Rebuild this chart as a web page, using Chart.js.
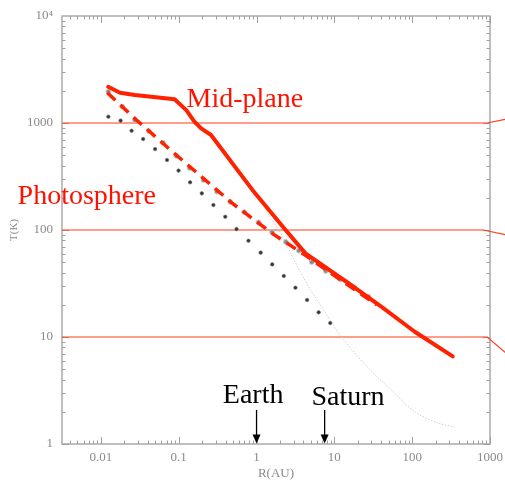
<!DOCTYPE html>
<html>
<head>
<meta charset="utf-8">
<script src="https://cdn.jsdelivr.net/npm/chart.js@4.4.1/dist/chart.umd.min.js"></script>
<style>
  html, body { margin: 0; padding: 0; background: #fff; }
  #wrap { width: 505px; height: 483px; }
</style>
</head>
<body>
<div id="wrap"><canvas id="tempChart" width="505" height="483"></canvas></div>
<script>
// R(AU) vs T(K)
const midR = [0.0124, 0.0176, 0.0273, 0.0885, 0.125, 0.159, 0.194, 0.26, 0.885, 2.36, 4.25, 15.2, 40, 108, 332];
const midT = [2180, 1920, 1830, 1670, 1320, 1030, 890, 773, 237, 100, 60.5, 31.8, 19.2, 11.2, 6.6];

const photR = [0.0121, 0.0286, 0.093, 0.491, 1.59, 4.25, 8, 15, 35];
const photT = [1920, 1067, 502, 177, 93, 58, 42, 30.5, 20];

const grayR = [0.01245, 0.0188, 0.0273, 0.0412, 0.0628, 0.0931, 0.138, 0.208, 0.31, 0.459, 0.693, 1.06, 1.58, 2.38, 3.5, 5.13, 7.74, 11.9, 18.2, 27.4];
const grayT = [1963, 1419, 1066, 841, 654, 492, 380, 293, 228, 183, 147, 118, 95.7, 77.3, 64.1, 50.2, 41.4, 34.6, 28.7, 23.8];

const dotR = [0.01247, 0.0179, 0.0248, 0.0349, 0.0497, 0.0707, 0.0995, 0.14, 0.198, 0.279, 0.396, 0.553, 0.787, 1.13, 1.59, 2.24, 3.16, 4.46, 6.28, 8.85];
const dotT = [1145, 1052, 847, 708, 571, 451, 359, 279, 220, 171, 133, 102, 79.4, 61.4, 47.7, 37.2, 28.9, 22.2, 17.0, 13.5];

const faintR = [1.14, 1.45, 1.94, 2.61, 4.69, 7.29, 11.3, 25.1, 53.8, 109, 215, 354];
const faintT = [190, 138, 100, 65, 29.3, 17.9, 10.9, 5.47, 3.2, 1.99, 1.57, 1.44];

// horizontal reference lines with their leader kinks past the frame
const refT = [1000, 100, 10];
const refKinkR = [920, 820, 920];
const refEndT = [1084, 90, 7.1];

const xTicks = [0.01, 0.1, 1, 10, 100, 1000];
const xTickLabels = ["0.01", "0.1", "1", "10", "100", "1000"];
const yTicks = [1, 10, 100, 1000, 10000];
const yTickLabels = ["1", "10", "100", "1000", "10⁴"];

const planetNames = ["Earth", "Saturn"];
const planetR = [1, 7.5];

const xMin = Math.pow(10, -2.5);
const xMax = 1000;
const RED = "#ff2200";
const SERIF = "'Liberation Serif', 'Times New Roman', serif";

const toXY = (xs, ys) => xs.map((x, i) => ({ x, y: ys[i] }));

const notes = [
  { text: "Mid-plane", r: 0.126, t: 1413, color: "#ff1100", align: "left", size: 28 },
  { text: "Photosphere", r: 0.00085, t: 175, color: "#ff1100", align: "left", size: 28 },
  { text: planetNames[0], r: 0.904, t: 2.42, color: "#000", align: "center", size: 28 },
  { text: planetNames[1], r: 15.0, t: 2.31, color: "#000", align: "center", size: 28 },
];

const refSets = refT.map((t, i) => ({
  data: [{ x: xMin, y: t }, { x: refKinkR[i], y: t }, { x: 1600, y: refEndT[i] }],
  showLine: true,
  borderColor: "#ff3a1a",
  borderWidth: 1.2,
  pointRadius: 0,
  clip: false,
}));

// frame, inward ticks, annotations
const decor = {
  id: "decor",
  beforeDatasetsDraw(chart) {
    const { ctx, chartArea: a, scales } = chart;
    const xs = scales.x, ys = scales.y;
    ctx.save();
    ctx.strokeStyle = "#b0b0b0";
    ctx.lineWidth = 1.6;
    ctx.strokeRect(a.left, a.top, a.right - a.left, a.bottom - a.top);
    ctx.lineWidth = 1;
    ctx.strokeStyle = "#a0a0a0";
    for (let e = -3; e <= 3; e++) {
      for (let k = 1; k <= 9; k++) {
        const v = k * Math.pow(10, e);
        const len = k === 1 ? 7 : 3.5;
        if (v >= xMin * 0.999 && v <= xMax * 1.001) {
          const px = Math.round(xs.getPixelForValue(v)) + 0.5;
          ctx.beginPath();
          ctx.moveTo(px, a.bottom); ctx.lineTo(px, a.bottom - len);
          ctx.moveTo(px, a.top); ctx.lineTo(px, a.top + len);
          ctx.stroke();
        }
        if (e >= 0 && v >= 1 && v <= 10000) {
          const py = Math.round(ys.getPixelForValue(v)) + 0.5;
          ctx.beginPath();
          ctx.moveTo(a.left, py); ctx.lineTo(a.left + len, py);
          ctx.moveTo(a.right, py); ctx.lineTo(a.right - len, py);
          ctx.stroke();
        }
      }
    }
    ctx.restore();
  },
  afterDatasetsDraw(chart) {
    const { ctx, scales } = chart;
    const xs = scales.x, ys = scales.y;
    ctx.save();
    notes.forEach((n) => {
      ctx.font = n.size + "px " + SERIF;
      ctx.fillStyle = n.color;
      ctx.textAlign = n.align;
      ctx.textBaseline = "alphabetic";
      ctx.fillText(n.text, xs.getPixelForValue(n.r), ys.getPixelForValue(n.t));
    });
    // planet arrows
    ctx.strokeStyle = "#000";
    ctx.fillStyle = "#000";
    ctx.lineWidth = 1.3;
    planetR.forEach((r) => {
      const px = xs.getPixelForValue(r);
      const y1 = ys.getPixelForValue(2.08);
      const y2 = ys.getPixelForValue(1.01);
      ctx.beginPath();
      ctx.moveTo(px, y1); ctx.lineTo(px, y2 - 7);
      ctx.stroke();
      ctx.beginPath();
      ctx.moveTo(px - 4, y2 - 9); ctx.lineTo(px + 4, y2 - 9); ctx.lineTo(px, y2);
      ctx.closePath();
      ctx.fill();
    });
    ctx.restore();
  },
};

new Chart(document.getElementById("tempChart"), {
  type: "scatter",
  data: {
    datasets: [
      {
        label: "Mid-plane",
        data: toXY(midR, midT),
        showLine: true,
        borderColor: RED,
        borderWidth: 4,
        pointRadius: 0,
        borderJoinStyle: "round",
        borderCapStyle: "round",
      },
      {
        label: "Photosphere",
        data: toXY(photR, photT),
        showLine: true,
        borderColor: RED,
        borderWidth: 3.5,
        borderDash: [11, 7],
        pointRadius: 0,
      },
      {
        label: "gray",
        data: toXY(grayR, grayT),
        pointRadius: 2.4,
        pointBackgroundColor: "#8a8a8a",
        pointBorderColor: "#c4c4c4",
        pointBorderWidth: 1,
      },
      {
        label: "dots",
        data: toXY(dotR, dotT),
        pointRadius: 1.8,
        pointBackgroundColor: "#333",
        pointBorderColor: "#777",
        pointBorderWidth: 0.6,
      },
      {
        label: "faint",
        data: toXY(faintR, faintT),
        showLine: true,
        borderColor: "#cfcfcf",
        borderWidth: 1,
        borderDash: [1.5, 1.5],
        pointRadius: 0,
        tension: 0.3,
      },
      ...refSets,
    ],
  },
  options: {
    responsive: false,
    animation: false,
    layout: { padding: { top: 16, right: 15, left: 0, bottom: 0 } },
    plugins: { legend: { display: false }, tooltip: { enabled: false } },
    scales: {
      x: {
        type: "logarithmic",
        min: xMin,
        max: xMax,
        border: { display: false },
        grid: { display: false, drawTicks: false },
        afterBuildTicks: (s) => { s.ticks = xTicks.map((v) => ({ value: v })); },
        afterFit: (s) => { s.height = 39; s.paddingRight = 0; s.paddingLeft = 0; },
        ticks: {
          padding: 6,
          maxRotation: 0,
          autoSkip: false,
          color: "#8a8a8a",
          font: { family: SERIF, size: 13 },
          callback: (v) => xTickLabels[xTicks.indexOf(v)] ?? "",
        },
        title: {
          display: true,
          text: "R(AU)",
          color: "#8a8a8a",
          font: { family: SERIF, size: 13 },
          padding: { top: 0, bottom: 2 },
        },
      },
      y: {
        type: "logarithmic",
        min: 1,
        max: 10000,
        border: { display: false },
        grid: { display: false, drawTicks: false },
        afterBuildTicks: (s) => { s.ticks = yTicks.map((v) => ({ value: v })); },
        afterFit: (s) => { s.width = 62; s.paddingTop = 0; s.paddingBottom = 0; },
        ticks: {
          padding: 9,
          autoSkip: false,
          color: "#8a8a8a",
          font: { family: SERIF, size: 13 },
          callback: (v) => yTickLabels[yTicks.indexOf(v)] ?? "",
        },
        title: {
          display: true,
          text: "T(K)",
          color: "#8a8a8a",
          font: { family: SERIF, size: 11 },
          padding: { top: 8, bottom: 0 },
        },
      },
    },
  },
  plugins: [decor],
});
</script>
</body>
</html>
